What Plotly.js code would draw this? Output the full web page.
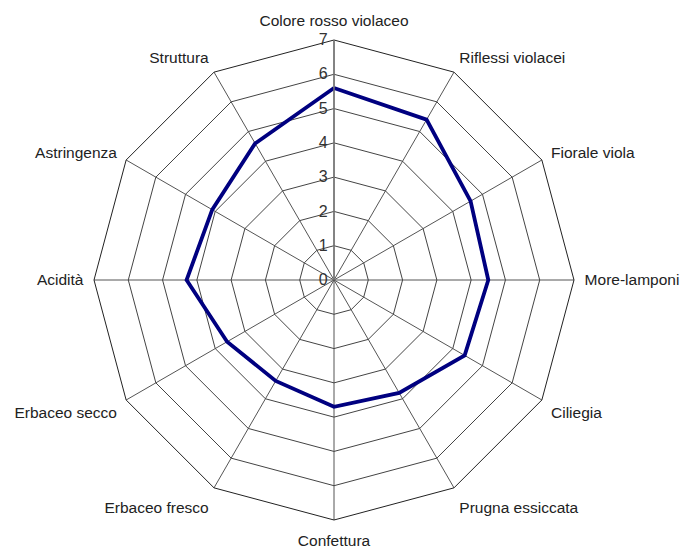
<!DOCTYPE html>
<html>
<head>
<meta charset="utf-8">
<script src="https://cdn.plot.ly/plotly-3.0.1.min.js"></script>
<style>html,body{margin:0;padding:0;background:#fff;}#chart{width:682px;height:548px;}</style>
</head>
<body>
<div id="chart"></div>
<script>
var categories = ["Colore rosso violaceo","Riflessi violacei","Fiorale viola","More-lamponi","Ciliegia","Prugna essiccata","Confettura","Erbaceo fresco","Erbaceo secco","Acidità","Astringenza","Struttura"];
var values = [5.6, 5.4, 4.6, 4.5, 4.4, 3.8, 3.7, 3.4, 3.6, 4.3, 4.1, 4.6];
var radialTicks = [0,1,2,3,4,5,6,7];

var trace = {
  type: 'scatterpolar',
  r: values.concat([values[0]]),
  theta: categories.concat([categories[0]]),
  mode: 'lines',
  line: {color: '#000080', width: 3.8},
  hoverinfo: 'skip'
};

var layout = {
  width: 682, height: 548,
  margin: {l: 94, r: 108, t: 40, b: 28},
  paper_bgcolor: '#fff',
  showlegend: false,
  font: {family: 'Liberation Sans, Arial, sans-serif', size: 16, color: '#222'},
  polar: {
    domain: {x: [0, 1], y: [0, 1]},
    gridshape: 'linear',
    bgcolor: '#fff',
    angularaxis: {
      direction: 'clockwise',
      rotation: 90,
      showline: true,
      linecolor: '#222',
      linewidth: 1,
      gridcolor: '#555',
      gridwidth: 1,
      ticks: 'outside',
      ticklen: 7,
      tickcolor: 'rgba(0,0,0,0)',
      tickfont: {size: 15.5, color: '#222'}
    },
    radialaxis: {
      range: [0, 7],
      angle: 90,
      side: 'counterclockwise',
      tickvals: radialTicks,
      ticktext: radialTicks.map(String),
      ticks: '',
      showline: true,
      linecolor: '#777',
      linewidth: 1.5,
      gridcolor: '#444',
      gridwidth: 1,
      tickangle: 90,
      tickfont: {size: 16, color: '#333'}
    }
  }
};

Plotly.newPlot('chart', [trace], layout, {displayModeBar: false, staticPlot: true});
</script>
</body>
</html>
